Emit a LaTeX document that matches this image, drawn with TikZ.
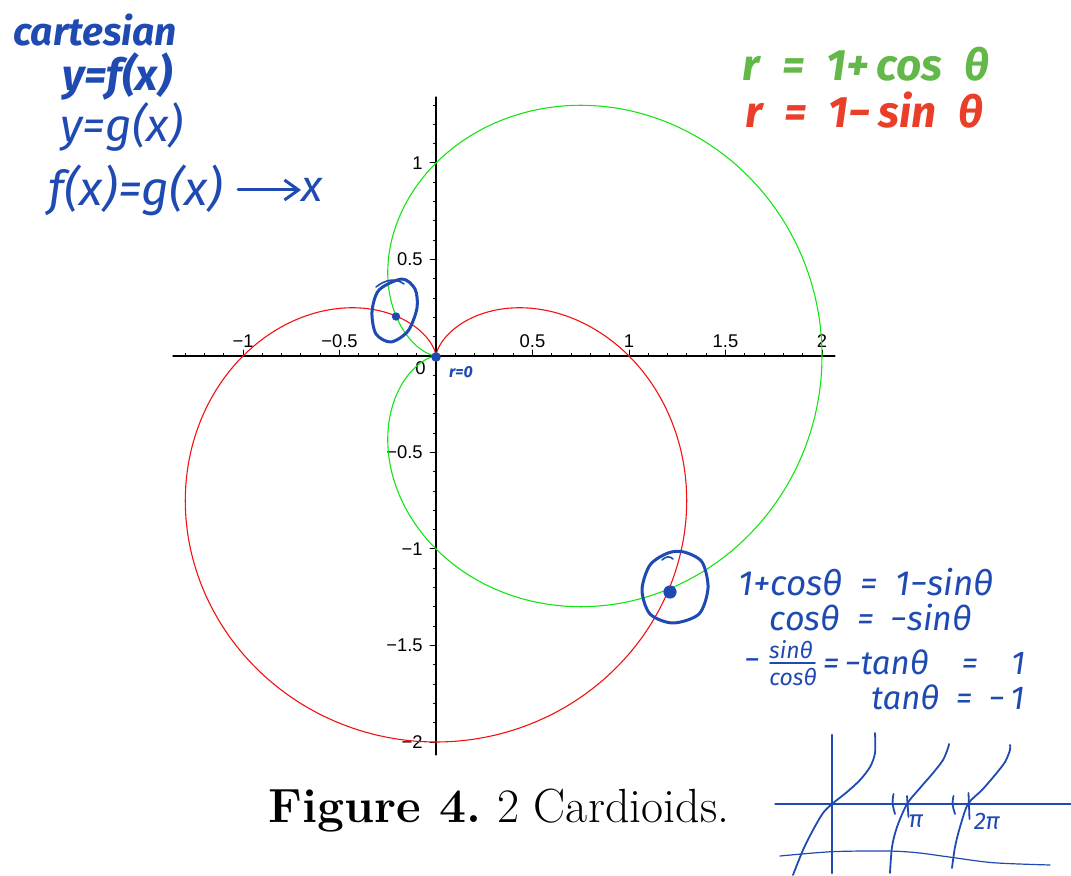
\documentclass[tikz,border=0pt]{standalone}
\usepackage{fontspec}
\newfontfamily\axisfont{Liberation Sans}
\newfontfamily\handfont{Fira Sans}
\usepackage{tikz}
\usetikzlibrary{arrows.meta}
\usepackage{xcolor}
\definecolor{inkblue}{RGB}{30,74,178}
\definecolor{inkgreen}{RGB}{98,184,72}
\definecolor{inkred}{RGB}{232,62,42}
\definecolor{plotgreen}{RGB}{20,228,20}
\definecolor{plotred}{RGB}{242,16,16}
\newcommand\handat[1]{\fontsize{#1}{#1}\selectfont}

\begin{document}
\begin{tikzpicture}[x=0.5pt,y=-0.5pt,line cap=round,line join=round,
  inkline/.style={inkblue,line width=1.5pt},
  pen/.style={inkblue,line width=0.9pt},
  hand/.style={text=inkblue,inner sep=0pt,font=\handfont\itshape},
  tick/.style={line width=0.5pt},
  axlab/.style={inner sep=0pt,font=\axisfont\fontsize{9.2}{10}\selectfont}]
\useasboundingbox (0,0) rectangle (1071,876);

% the two cardioids
\begin{scope}[shift={(436,356)},x=96.5pt,y=96.5pt]
\draw[line width=0.6pt] (-1.363,0) -- (2.067,0);
\draw[line width=0.6pt] (0,-2.067) -- (0,1.342);
\foreach \t in {-13,...,20} \draw[tick] (\t/10,0) -- (\t/10,0.013);
\foreach \t in {-1,-0.5,0.5,1,1.5,2} \draw[tick] (\t,0) -- (\t,0.031);
\foreach \t in {-20,...,13} \draw[tick] (0,\t/10) -- (-0.013,\t/10);
\foreach \t in {-2,-1.5,-1,-0.5,0.5,1} \draw[tick] (0,\t) -- (-0.031,\t);
\node[axlab,above=4pt] (xa) at (-1,0) {−1};
\node[axlab,above=4pt] (xb) at (-0.5,0) {−0.5};
\node[axlab,above=4pt] (xc) at (0.5,0) {0.5};
\node[axlab,above=4pt] (xd) at (1,0) {1};
\node[axlab,above=4pt] (xe) at (1.5,0) {1.5};
\node[axlab,above=4pt] (xf) at (2,0) {2};
\node[axlab,left=6.5pt] (ya) at (0,1) {1};
\node[axlab,left=6.5pt] (yb) at (0,0.5) {0.5};
\node[axlab,left=6.5pt] (yc) at (0,-0.5) {−0.5};
\node[axlab,left=6.5pt] (yd) at (0,-1) {−1};
\node[axlab,left=6.5pt] (ye) at (0,-1.5) {−1.5};
\node[axlab,left=6.5pt] (yf) at (0,-2) {−2};
\node[axlab] (orig) at (-0.080,-0.064) {0};
\draw[plotgreen,line width=0.55pt] plot[domain=0:360,samples=241,smooth] (\x:{1+cos(\x)});
\draw[plotred,line width=0.55pt] plot[domain=0:360,samples=241,smooth] (\x:{1-sin(\x)});
\end{scope}

% notes on the plot
\fill[inkblue] (436,357) circle (2.4pt);
\fill[inkblue] (396,316.5) circle (2.1pt);
\fill[inkblue] (670,592) circle (3.3pt);
\draw[inkline] plot[smooth cycle] coordinates {(402,279) (415,289) (417,308) (408,331) (391,342) (376,334) (372,312) (379,290)};
\draw[inkline,line width=0.8pt] (376,287) .. controls (386,279) and (396,278) .. (404,284);
\draw[inkline] plot[smooth cycle] coordinates {(684,552) (702,562) (708,588) (699,614) (673,623) (650,614) (642,590) (650,565) (668,553)};
\draw[inkline,line width=0.8pt] (662,560) .. controls (666,556) and (670,556) .. (673,559);
\node[hand,font=\handfont\itshape\bfseries\handat{8}] (rzero) at (461,372) {r=0};

% top left
\node[hand,font=\handfont\itshape\bfseries\handat{19.5}] (cart) at (95,30) {cartesian};
\node[hand,font=\handfont\itshape\bfseries\handat{22}] (yfx) at (117,76) {y=f(x)};
\node[hand,font=\handfont\itshape\handat{23}] (ygx) at (122,127) {y=g(x)};
\node[hand,font=\handfont\itshape\handat{24}] (fxgx) at (136,190) {f(x)=g(x)};
\node[hand,font=\handfont\itshape\handat{22}] (xvar) at (312,190) {x};
\draw[inkline,-{Straight Barb[length=7pt,width=10pt]}] (238,190) -- (xvar.west);

% top right
\node[inner sep=0pt,text=inkgreen,font=\handfont\itshape\bfseries\handat{22}] (rcos) at (866,64) {r\enspace=\enspace1+\,cos\enspace θ};
\node[inner sep=0pt,text=inkred,font=\handfont\itshape\bfseries\handat{22}] (rsin) at (864,110) {r\enspace=\enspace1−\,sin\enspace θ};

% solving for theta
\node[hand,font=\handfont\itshape\handat{17.5}] (eqa) at (866,582) {1+cosθ\enspace=\enspace1−sinθ};
\node[hand,font=\handfont\itshape\handat{17}] (eqb) at (871,617) {cosθ\enspace=\enspace−sinθ};
\node[hand,font=\handfont\itshape\handat{16}] (eqcm) at (752,665) {−};
\node[hand,font=\handfont\itshape\handat{11.5}] (eqcn) at (791,650) {sinθ};
\node[hand,font=\handfont\itshape\handat{11.5}] (eqcd) at (793,677) {cosθ};
\draw[pen] (770,663) -- (815,663);
\node[hand,font=\handfont\itshape\handat{16.5}] (eqcr) at (924,662) {=\,−tanθ\quad=\quad1};
\node[hand,font=\handfont\itshape\handat{16.5}] (eqd) at (948,697) {tanθ\enspace=\enspace−\,1};

% sketch of tan
\draw[inkblue,line width=0.6pt] (775,804) -- (1071,804);
\draw[inkblue,line width=1.3pt] (832,735) -- (832,873);
\draw[pen,line width=0.6pt] plot[smooth] coordinates {(780,856) (832,851.7) (887,851) (917,852.7) (947,856.7) (993,862.7) (1050,865)};
\draw[pen] plot[smooth] coordinates {(793,875) (803,850) (813,830) (823,813) (832,804) (847,792) (860,780) (870,767) (875,753) (875,733)};
\draw[pen] plot[smooth] coordinates {(890,873) (892,847) (897,827) (907,804) (920,788) (933,773) (943,760) (948,748) (949,744)};
\draw[pen] plot[smooth] coordinates {(952,868) (955,847) (960,827) (968,804) (982,790) (995,775) (1005,762) (1010,750) (1010,745)};
\draw[pen] (893.5,794) .. controls (892,803) .. (895,814);
\draw[pen] (907,796) -- (908.5,817);
\draw[pen] (953.5,796) .. controls (952,804) .. (955,814);
\draw[pen] (968.5,793) -- (969.5,819);
\node[hand,font=\handfont\itshape\handat{12}] (pia) at (916,821) {π};
\node[hand,font=\handfont\itshape\handat{12}] (pib) at (987,821) {2π};

% caption
\node[anchor=base west,inner sep=0pt,font=\fontsize{24}{28}\selectfont] (figlab) at (268,822) {\bfseries Figure 4.};
\node[anchor=base west,inner sep=0pt,font=\fontsize{24}{28}\selectfont] (figtxt) at (497,822) {2 Cardioids.};
\end{tikzpicture}
\end{document}
